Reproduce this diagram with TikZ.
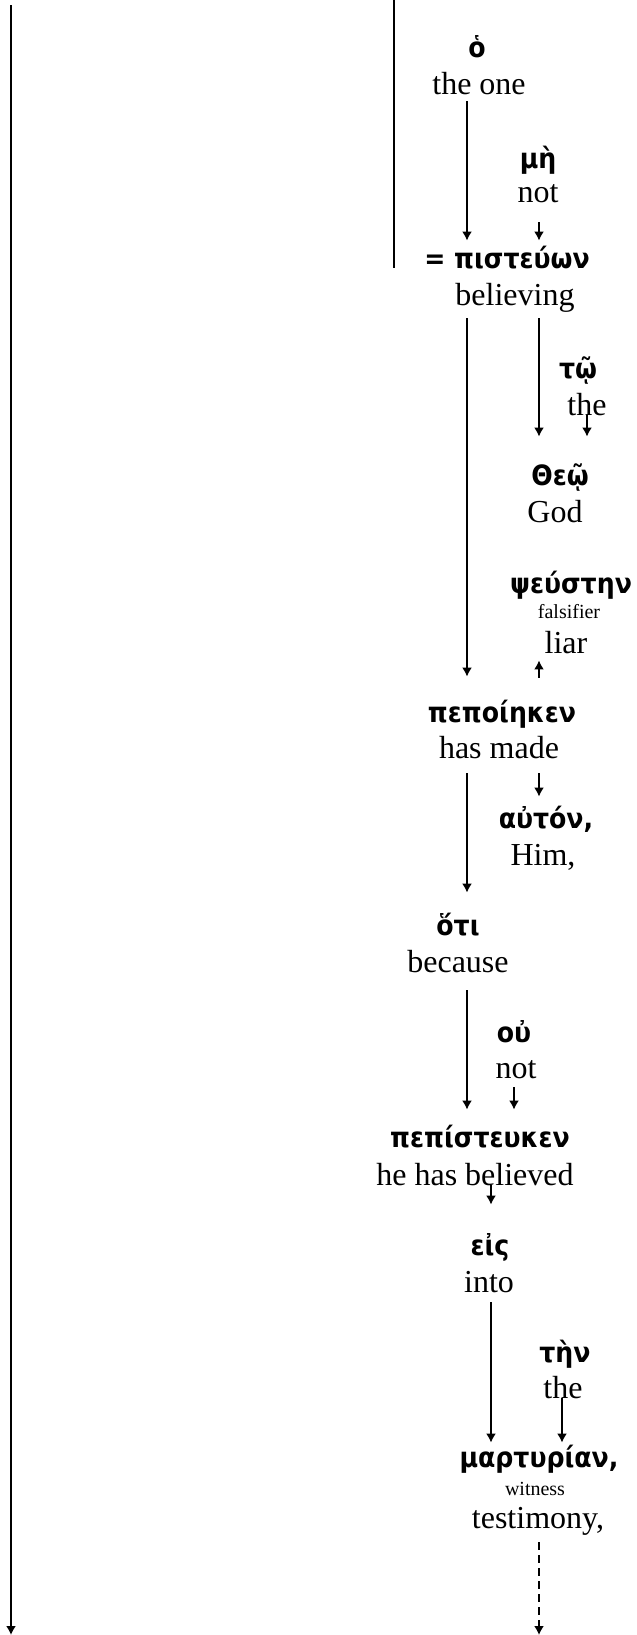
\documentclass[tikz,border=0pt]{standalone}
\usepackage{fontspec}
\setmainfont{Liberation Serif}
\newfontfamily\greekfont{DejaVu Sans Condensed}
\usetikzlibrary{arrows.meta}

\begin{document}
\begin{tikzpicture}[x=0.5pt,y=-0.5pt,
	gr/.style={anchor=base,inner sep=0pt,text height=12pt,text depth=3pt,font=\greekfont\bfseries\fontsize{14}{16}\selectfont},
	en/.style={anchor=base,inner sep=0pt,text height=11pt,text depth=3.5pt,font=\fontsize{16}{18}\selectfont},
	sm/.style={anchor=base,inner sep=0pt,font=\fontsize{10}{12}\selectfont},
	arr/.style={line width=0.9pt,-{Latex[length=4.5pt,width=5pt]}}]
	\useasboundingbox (0,0) rectangle (637,1635);

	% columns of the arrows
	\coordinate (c467) at (467,0);
	\coordinate (c491) at (491,0);
	\coordinate (c514) at (514,0);
	\coordinate (c539) at (539,0);
	\coordinate (c562) at (562,0);
	\coordinate (c587) at (587,0);

	\node[gr] (ho) at (477, 57) {ὁ};
	\node[en] (theone) at (479, 94) {the one};
	\node[gr] (me) at (538, 168) {μὴ};
	\node[en] (not1) at (538, 202) {not};
	\node[gr] (pisteuon) at (507, 268) {= πιστεύων};
	\node[en] (believing) at (515, 305) {believing};
	\node[gr] (to) at (578, 378) {τῷ};
	\node[en] (the1) at (587, 415) {the};
	\node[gr] (theo) at (560, 485) {Θεῷ};
	\node[en] (god) at (555, 522) {God};
	\node[gr] (pseusten) at (571, 593) {ψεύστην};
	\node[sm] (falsifier) at (569, 618) {falsifier};
	\node[en] (liar) at (566, 653) {liar};
	\node[gr] (pepoieken) at (502, 722) {πεποίηκεν};
	\node[en] (hasmade) at (499, 758) {has made};
	\node[gr] (auton) at (546, 828) {αὐτόν,};
	\node[en] (him) at (543, 865) {Him,};
	\node[gr] (hoti) at (458, 935) {ὅτι};
	\node[en] (because) at (458, 972) {because};
	\node[gr] (ou) at (514, 1042) {οὐ};
	\node[en] (not2) at (516, 1078) {not};
	\node[gr] (pepisteuken) at (480, 1147) {πεπίστευκεν};
	\node[en] (hehasbelieved) at (475, 1185) {he has believed};
	\node[gr] (eis) at (490, 1255) {εἰς};
	\node[en] (into) at (489, 1292) {into};
	\node[gr] (ten) at (565, 1362) {τὴν};
	\node[en] (the2) at (563, 1398) {the};
	\node[gr] (marturian) at (539, 1467) {μαρτυρίαν,};
	\node[sm] (witness) at (535, 1495) {witness};
	\node[en] (testimony) at (538, 1528) {testimony,};

	% loose lines
	\coordinate (topa) at (394,0);
	\coordinate (topb) at (394,268);
	\coordinate (lefta) at (11,5);
	\coordinate (leftb) at (11,1635);
	\coordinate (endb) at (539,1635);
	\draw[line width=0.9pt] (topa) -- (topb);
	\draw[arr,line width=1.1pt] (lefta) -- (leftb);

	\draw[arr,shorten >=1.5pt] (theone.south -| c467) -- (pisteuon.north -| c467);
	\draw[arr,shorten <=6.5pt,shorten >=1.5pt] (not1.south -| c539) -- (pisteuon.north -| c539);
	\draw[arr,shorten <=3pt,shorten >=10.5pt] (believing.south -| c467) -- (pepoieken.north -| c467);
	\draw[arr,shorten <=3pt,shorten >=12pt] (believing.south -| c539) -- (theo.north -| c539);
	\draw[arr,shorten >=12pt] (the1.base -| c587) -- (theo.north -| c587);
	\draw[arr,shorten <=10pt] (pepoieken.north -| c539) -- (liar.south -| c539);
	\draw[arr,shorten <=4pt,shorten >=9pt] (hasmade.south -| c467) -- (hoti.north -| c467);
	\draw[arr,shorten <=4pt,shorten >=3.5pt] (hasmade.south -| c539) -- (auton.north -| c539);
	\draw[arr,shorten <=5.5pt,shorten >=6.5pt] (because.south -| c467) -- (pepisteuken.north -| c467);
	\draw[arr,shorten <=1pt,shorten >=6.5pt] (not2.south -| c514) -- (pepisteuken.north -| c514);
	\draw[arr,shorten >=13pt] (hehasbelieved.base -| c491) -- (eis.north -| c491);
	\draw[arr,shorten <=1.5pt] (into.south -| c491) -- (marturian.north -| c491);
	\draw[arr] (the2.base -| c562) -- (marturian.north -| c562);
	\draw[arr,dash pattern=on 4pt off 2.5pt,shorten <=3.5pt] (testimony.south -| c539) -- (endb);
\end{tikzpicture}
\end{document}
